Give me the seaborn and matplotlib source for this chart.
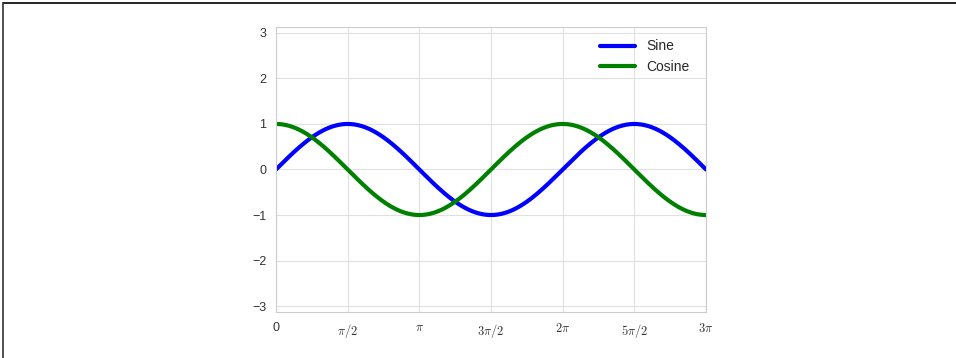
import numpy as np
import pandas as pd
import matplotlib.pyplot as plt
import seaborn as sns
from matplotlib.lines import Line2D

# Data
x = np.linspace(0, 3 * np.pi, 1000)
sine = np.sin(x)
cosine = np.cos(x)
series_names = ['Sine', 'Cosine']
series_colors = ['blue', 'green']
xtick_labels = ['0', r'$\pi/2$', r'$\pi$', r'$3\pi/2$', r'$2\pi$', r'$5\pi/2$', r'$3\pi$']
ytick_values = [-3, -2, -1, 0, 1, 2, 3]

df = pd.DataFrame({'x': np.concatenate([x, x]),
                   'y': np.concatenate([sine, cosine]),
                   'series': np.repeat(series_names, len(x))})

sns.set_style('whitegrid')
plt.rcParams['font.family'] = ['Liberation Sans', 'DejaVu Sans']
plt.rcParams['mathtext.fontset'] = 'cm'

fig = plt.figure(figsize=(9.56, 3.58), dpi=100)
ax = fig.add_axes([0.2887, 0.1285, 0.4498, 0.7961])

sns.lineplot(data=df, x='x', y='y', hue='series', palette=series_colors,
             linewidth=3, ax=ax)

ax.set_xlim(0, 3 * np.pi)
ax.set_ylim(-3.13, 3.13)
ax.set_xlabel('')
ax.set_ylabel('')

# Ticks at multiples of pi/2
ax.set_xticks(np.arange(len(xtick_labels)) * np.pi / 2)
ax.set_xticklabels(xtick_labels)
ax.set_yticks(ytick_values)
ax.set_yticklabels(['\u2212' + str(-v) if v < 0 else str(v) for v in ytick_values])
ax.tick_params(labelsize=9, colors='#333333')
for s in ax.spines.values():
    s.set_color('#cccccc')
ax.grid(color='#e0e0e0', linewidth=0.8)

leg = ax.legend(loc='upper right', bbox_to_anchor=(1, 1.015), frameon=False,
                fontsize=10, handlelength=2.5, borderaxespad=0.8)
leg.set_title(None)

# Frame lines around the picture (top and left)
fig.add_artist(Line2D([0.003, 1], [0.991, 0.991], color='black', linewidth=1.2))
fig.add_artist(Line2D([0.003, 0.003], [0, 0.991], color='#333333', linewidth=1.2))

fig.savefig('out.png', dpi=100)
